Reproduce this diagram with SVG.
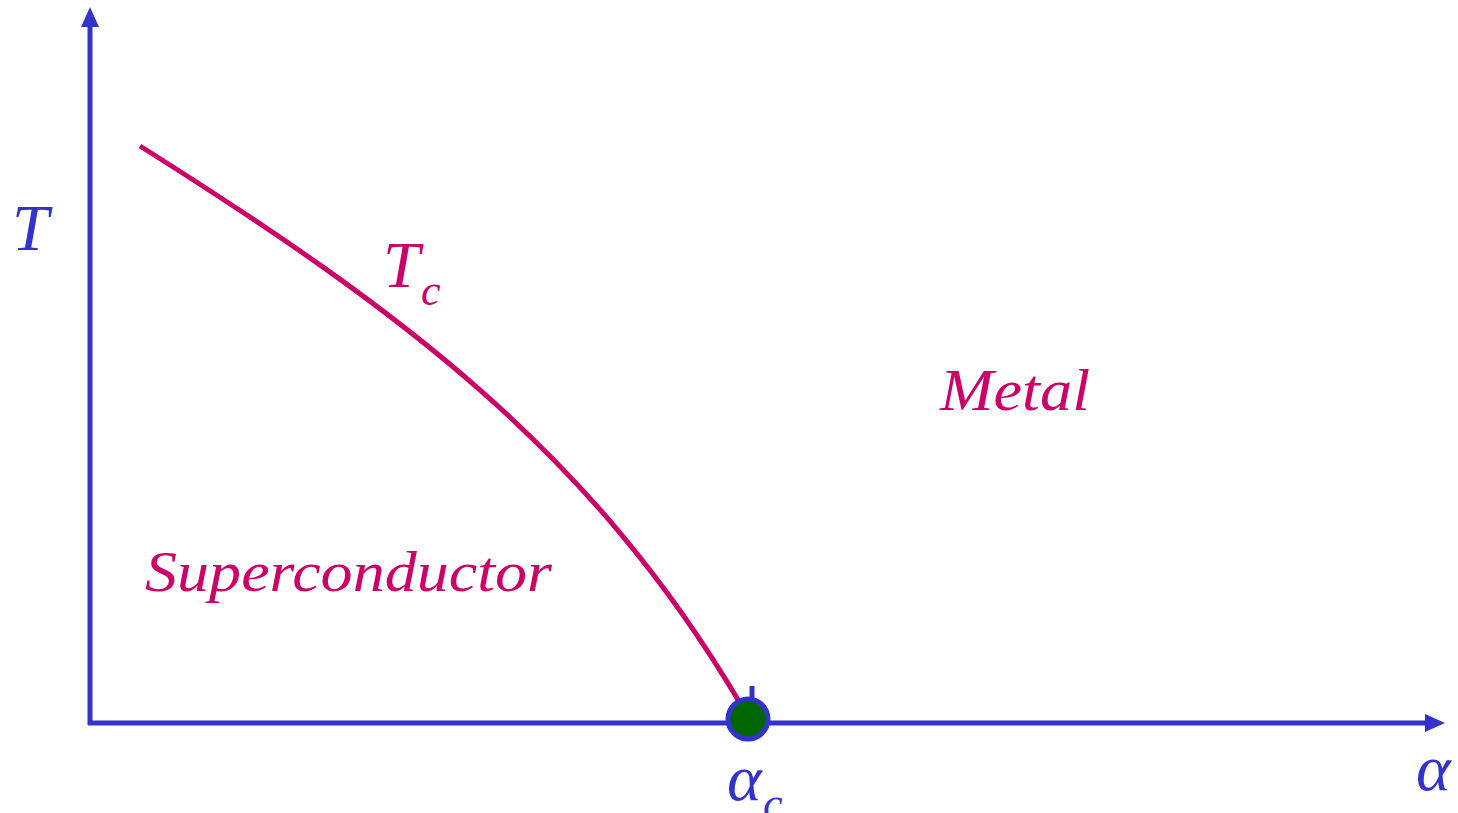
<svg xmlns="http://www.w3.org/2000/svg" width="1458" height="813" viewBox="0 0 1458 813">
<style>
.ax{stroke:#3333cc;stroke-width:5;fill:none}
.ah{fill:#3333cc}
.cv{stroke:#cc0066;stroke-width:5;fill:none}
.t{font-family:"Liberation Serif",serif;font-style:italic}
.blue{fill:#3333cc}
.red{fill:#cc0066}
</style>
<rect width="1458" height="813" fill="#fff"/>
<g id="connectors">
<path class="ax" d="M90,725 L90,24"/>
<polygon class="ah" points="81,27 90,7 99,27"/>
<path class="ax" d="M88,723 L1428,723"/>
<polygon class="ah" points="1425,714 1445,723 1425,732"/>
<path id="tc-curve" class="cv" d="M140,146 C400,310 590,450 740,703"/>
</g>
<g id="critical-point">
<line x1="752" y1="686" x2="752" y2="702" class="ax" stroke-width="4"/>
<circle cx="748" cy="719" r="20" fill="#006600" stroke="#3333cc" stroke-width="5"/>
</g>
<g id="labels">
<text class="t blue" x="12" y="250" font-size="66">T</text>
<text class="t red" x="383" y="287" font-size="66">T</text>
<text class="t red" x="421" y="305" font-size="44">c</text>
<text class="t red" x="940" y="410" font-size="60" textLength="150" lengthAdjust="spacingAndGlyphs">Metal</text>
<text class="t red" x="145" y="591" font-size="58" textLength="407" lengthAdjust="spacingAndGlyphs">Superconductor</text>
<text class="t blue" x="1416" y="790" font-size="66">α</text>
<text class="t blue" x="727" y="800" font-size="66">α</text>
<text class="t blue" x="763" y="818" font-size="44">c</text>
</g>
</svg>
